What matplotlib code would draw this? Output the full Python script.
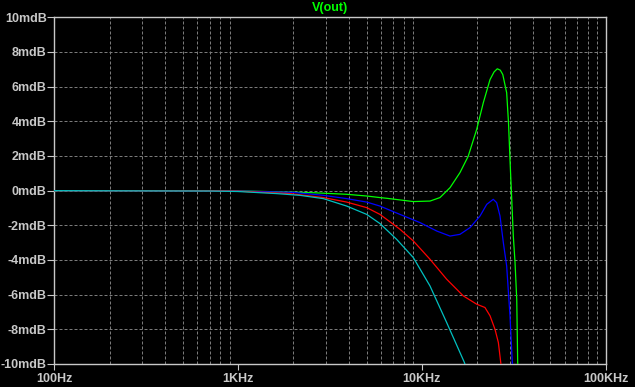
import matplotlib
matplotlib.use("Agg")
import matplotlib.pyplot as plt
from matplotlib.ticker import FixedLocator, NullFormatter

# ---- data (frequency in Hz, magnitude in dB) ----
green_f = [100, 1000, 2570, 3900, 5010, 5916, 6430, 8980, 11070, 12540, 14220, 16110,
           17870, 19860, 21580, 23480, 24700, 25720, 26700, 27540, 28920, 29600, 30150,
           31430, 32110, 32810, 33200, 33600]
green_db = [0, -0.01, -0.12, -0.21, -0.31, -0.40, -0.44, -0.63, -0.60, -0.40, 0.17, 1.04,
            1.99, 3.53, 5.07, 6.41, 6.85, 7.03, 6.95, 6.70, 5.65, 3.9, 1.80,
            -2.62, -4.13, -6.27, -9.9, -12]

blue_f = [100, 1000, 2000, 2910, 3900, 5010, 5916, 7600, 9750, 12050, 14220, 16110,
          18280, 20720, 22530, 24450, 25510, 26600, 27740, 28920, 30150, 31030, 31500]
blue_db = [0, -0.02, -0.1, -0.27, -0.46, -0.66, -0.89, -1.37, -1.84, -2.33, -2.62, -2.52,
           -2.13, -1.46, -0.79, -0.50, -0.69, -1.46, -3.0, -4.35, -7.23, -9.9, -11]

red_f = [100, 700, 1000, 1920, 2910, 3900, 5010, 5916, 7600, 8980, 11070, 13640,
         16790, 19860, 22030, 23480, 24990, 26060, 26840, 27500]
red_db = [0, -0.01, -0.03, -0.17, -0.40, -0.66, -0.98, -1.37, -2.23, -2.90, -3.96, -5.11,
          -6.07, -6.55, -6.74, -7.22, -8.0, -8.76, -9.9, -11]

cyan_f = [100, 700, 1000, 1620, 2170, 2910, 3900, 5010, 5916, 7290, 8980, 11070,
          13640, 17010, 18500]
cyan_db = [0, -0.02, -0.05, -0.17, -0.27, -0.46, -0.89, -1.37, -1.90, -2.81, -3.86, -5.5,
           -7.61, -9.9, -11]

y_ticks = [-10, -8, -6, -4, -2, 0, 2, 4, 6, 8, 10]
x_major = [100, 1000, 10000, 100000]
x_labels = ["100Hz", "1KHz", "10KHz", "100KHz"]
title = "V(out)"

# ---- figure ----
W, H, DPI = 635, 387, 100
fig = plt.figure(figsize=(W / DPI, H / DPI), dpi=DPI, facecolor="black")
ax = fig.add_axes([54.3 / W, 1 - 364 / H, (605.7 - 54.3) / W, (364 - 17.3) / H])
ax.set_facecolor("black")
ax.set_xscale("log")
ax.set_xlim(100, 100000)
ax.set_ylim(-10, 10)

frame_col = "#c8c8c8"
grid_col = "#7a7a7a"
text_col = "#c8c8c8"
font = dict(family=["Liberation Sans", "DejaVu Sans"], weight="bold", size=9)

# grid lines (dashed)
minor = [m * d for d in [100, 1000, 10000] for m in range(2, 10)]
for xv in minor:
    ax.axvline(xv, color=grid_col, lw=0.72, dashes=(3, 2), zorder=1)
for yv in y_ticks[1:-1]:
    ax.axhline(yv, color=grid_col, lw=0.72, dashes=(3, 2), zorder=1)

# curves
ax.plot(green_f, green_db, color="#00ff00", lw=0.9, zorder=3)
ax.plot(blue_f, blue_db, color="#0000ff", lw=0.9, zorder=3)
ax.plot(red_f, red_db, color="#ff0000", lw=0.9, zorder=3)
ax.plot(cyan_f, cyan_db, color="#00c0c0", lw=0.9, zorder=3)

# axes styling
for s in ax.spines.values():
    s.set_color(frame_col)
    s.set_linewidth(1.0)
ax.xaxis.set_major_locator(FixedLocator(x_major))
ax.xaxis.set_minor_locator(FixedLocator(minor))
ax.xaxis.set_minor_formatter(NullFormatter())
ax.set_xticklabels(x_labels, fontdict=font, color=text_col)
ax.set_yticks(y_ticks)
ax.set_yticklabels([f"{v}mdB" for v in y_ticks], fontdict=font, color=text_col)
ax.tick_params(axis="x", which="major", direction="out", length=4.5, width=0.8,
               color=frame_col, pad=2)
ax.tick_params(axis="x", which="minor", length=0)
ax.tick_params(axis="y", which="major", direction="out", length=5, width=0.8,
               color=frame_col, pad=0.5)

fig.text(330 / W, 1 - 8 / H, title, color="#00ff00", ha="center", va="center",
         family=["Liberation Sans", "DejaVu Sans"], weight="bold", size=9)

fig.savefig("out.png", dpi=DPI, facecolor="black")
